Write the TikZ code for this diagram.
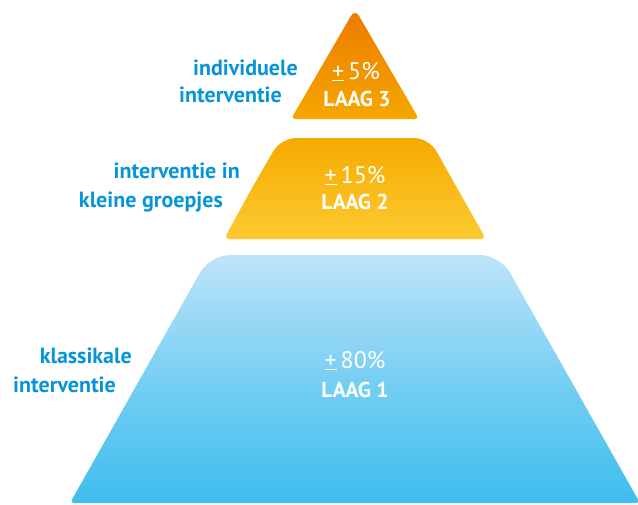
\documentclass[tikz,border=0pt]{standalone}
\usepackage{fontspec}
\setmainfont{PT Sans}

\definecolor{blauw}{HTML}{0895D8}
\definecolor{oranjetop}{HTML}{EC7A00}
\definecolor{oranjebodem}{HTML}{F6A700}
\definecolor{geeltop}{HTML}{F6AA00}
\definecolor{geelbodem}{HTML}{FDCA31}
\definecolor{lichtblauw}{HTML}{BEE4F9}
\definecolor{diepblauw}{HTML}{3EBDEE}

\begin{document}
\begin{tikzpicture}[x=1pt,y=-1pt,
zij/.style={anchor=base east,inner sep=0pt,text=blauw,
  font=\fontsize{22}{22}\selectfont\bfseries},
pct/.style={anchor=base,inner sep=0pt,text=white,
  font=\fontsize{24}{24}\selectfont},
laag/.style={anchor=base,inner sep=0pt,text=white,
  font=\fontsize{21.5}{21.5}\selectfont\bfseries}]

\useasboundingbox (0,0) rectangle (638,504);

% Laag 1
\shade[top color=lichtblauw,bottom color=diepblauw,middle color=diepblauw!55!lichtblauw]
(355,255) [rounded corners=20pt] -- (500,255) -- (570,379)
[rounded corners=4pt] -- (640,503) -- (70,503) -- (140,379)
[rounded corners=20pt] -- (210,255) -- cycle;

\node[pct] (pct1) at (355,368) {\underline{+}\,80\%};
\node[laag] (laag1) at (355,397) {LAAG 1};

\node[zij] (zij1a) at (132,363) {klassikale};
\node[zij] (zij1b) at (116,392) {interventie};

% Laag 2
\shade[top color=geeltop,bottom color=geelbodem]
(355,138) [rounded corners=15pt] -- (429,138) -- (457,188)
[rounded corners=5pt] -- (486,239) -- (224,239) -- (252,188)
[rounded corners=15pt] -- (281,138) -- cycle;

\node[pct] (pct2) at (355,183) {\underline{+}\,15\%};
\node[laag] (laag2) at (355,209) {LAAG 2};

\node[zij] (zij2a) at (240,178) {interventie in};
\node[zij] (zij2b) at (223,207) {kleine groepjes};

% Laag 3
\shade[top color=oranjetop,bottom color=oranjebodem]
(355,119) [rounded corners=4pt] -- (291,119) -- (323,64)
[rounded corners=8pt] -- (355,9) -- (387,64)
[rounded corners=4pt] -- (419,119) -- cycle;

\node[pct] (pct3) at (356,79) {\underline{+}\,5\%};
\node[laag] (laag3) at (357,106) {LAAG 3};

\node[zij] (zij3a) at (298,75) {individuele};
\node[zij] (zij3b) at (282,102) {interventie};

\end{tikzpicture}
\end{document}
